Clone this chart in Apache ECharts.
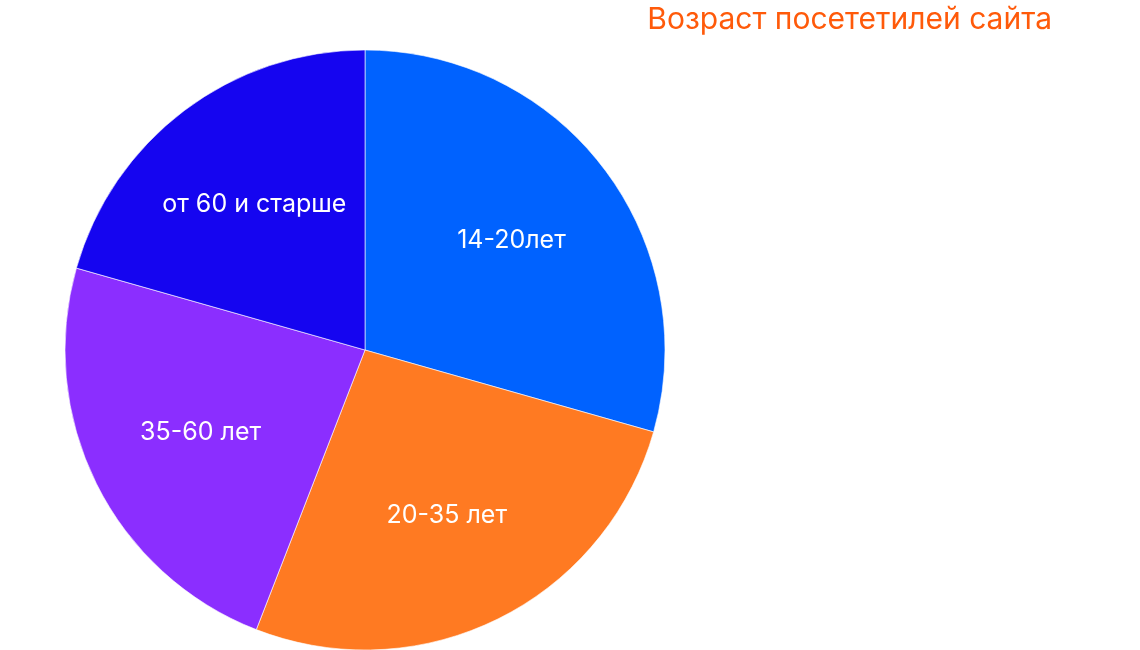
<!DOCTYPE html>
<html><head><meta charset="utf-8">
<script src="https://cdn.jsdelivr.net/npm/echarts@6/dist/echarts.min.js"></script>
<style>html,body{margin:0;padding:0;background:#fff}#c{width:1140px;height:650px}</style>
</head><body><div id="c"></div>
<script>
const categories = ['14-20лет', '20-35 лет', '35-60 лет', 'от 60 и старше'];
const values = [29.4, 26.5, 23.5, 20.6];
const colors = ['#0062FF', '#FF7A22', '#8B2EFF', '#1505F0'];
const titleText = 'Возраст посететилей сайта';

const chart = echarts.init(document.getElementById('c'), null, {renderer: 'canvas'});
const CX = 365, CY = 350;
chart.setOption({
  animation: false,
  title: {
    text: titleText, right: 83, top: 0,
    textStyle: {color: '#FF5A0A', fontSize: 30, fontWeight: 'normal', fontFamily: 'Inter'}
  },
  series: [{
    type: 'pie',
    center: [CX, CY],
    radius: [0, 300],
    startAngle: 90,
    clockwise: true,
    data: categories.map((c, i) => ({name: c, value: values[i], itemStyle: {color: colors[i]}})),
    itemStyle: {borderColor: '#fff', borderWidth: 0.6},
    label: {position: 'inside', color: '#fff', fontSize: 25, fontFamily: 'Inter', formatter: '{b}'},
    labelLine: {show: false},
    emphasis: {disabled: true},
    labelLayout: function (p) {
      const r = p.labelRect;
      const mx = r.x + r.width / 2, my = r.y + r.height / 2;
      return {x: CX + (mx - CX) * 1.2, y: CY + (my - CY) * 1.2 + 1};
    }
  }]
});
</script></body></html>
